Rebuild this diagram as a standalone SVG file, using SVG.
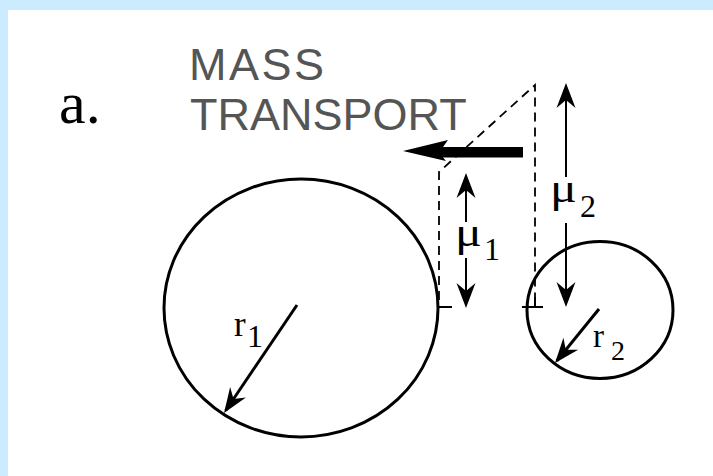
<svg xmlns="http://www.w3.org/2000/svg" width="713" height="476" viewBox="0 0 713 476">
<style>
.serif{font-family:"Liberation Serif","Times New Roman",serif;fill:#000}
.mu{font-family:"Liberation Serif","Times New Roman",serif;fill:#000}
.sans{font-family:"Liberation Sans",Arial,sans-serif;fill:#555}
.circ{fill:none;stroke:#000;stroke-width:3}
.dash{fill:none;stroke:#000;stroke-width:1.8;stroke-dasharray:9 6}
.arr{stroke:#000;stroke-width:2;marker-end:url(#head)}
.rarr{stroke:#000;stroke-width:3;marker-end:url(#head)}
.tick{stroke:#000;stroke-width:2}
</style>
<defs>
<marker id="head" viewBox="-26 -11 30 22" markerWidth="30" markerHeight="22" markerUnits="userSpaceOnUse" refX="-3" refY="0" orient="auto">
<path d="M0,0 L-25,-9.5 L-17,0 L-25,9.5 Z" fill="#000"/>
</marker>
</defs>
<rect x="0" y="0" width="713" height="476" fill="#ccebff"/>
<rect x="8" y="10" width="705" height="466" fill="#fff"/>
<g id="label-a"><text class="serif" x="59" y="123" font-size="60">a.</text></g>
<g id="label-mass-transport">
<text class="sans" x="189" y="80" font-size="45" letter-spacing="2.5">MASS</text>
<text class="sans" x="190" y="130" font-size="45">TRANSPORT</text>
</g>
<g id="circle1">
<ellipse class="circ" cx="301" cy="308" rx="137" ry="129"/>
<text class="serif" x="234" y="336" font-size="35">r</text>
<text class="serif" x="247" y="347" font-size="32">1</text>
</g>
<g id="circle2">
<ellipse class="circ" cx="600" cy="310" rx="73" ry="68.5"/>
<text class="serif" x="593" y="347" font-size="33">r</text>
<text class="serif" x="611" y="360" font-size="28">2</text>
</g>
<g id="mu1">
<text class="mu" transform="translate(455,246) scale(1.25,1)" font-size="40">μ</text>
<text class="serif" x="484" y="260" font-size="32">1</text>
</g>
<g id="mu2">
<text class="mu" transform="translate(550,202) scale(1.25,1)" font-size="40">μ</text>
<text class="serif" x="580" y="217" font-size="32">2</text>
</g>
<g id="connectors">
<path class="dash" d="M439,300 L439,172 L535,85 L535,300"/>
<line class="tick" x1="438" y1="307" x2="452" y2="307"/>
<line class="tick" x1="522" y1="307" x2="543" y2="307"/>
<line class="tick" x1="535" y1="297" x2="535" y2="307"/>
<path d="M403,151 L448,140 L443,147 L523,147 L523,157.5 L443,157.5 L446,161 Z" fill="#000"/>
<line class="arr" x1="466" y1="222" x2="466" y2="176"/>
<line class="arr" x1="466" y1="258" x2="466" y2="305"/>
<line class="arr" x1="566" y1="177" x2="566" y2="86"/>
<line class="arr" x1="566" y1="223" x2="566" y2="304"/>
<line class="rarr" x1="297" y1="305" x2="225.7" y2="410.5"/>
<line class="rarr" x1="599" y1="309" x2="556.9" y2="360.7"/>
</g>
</svg>
